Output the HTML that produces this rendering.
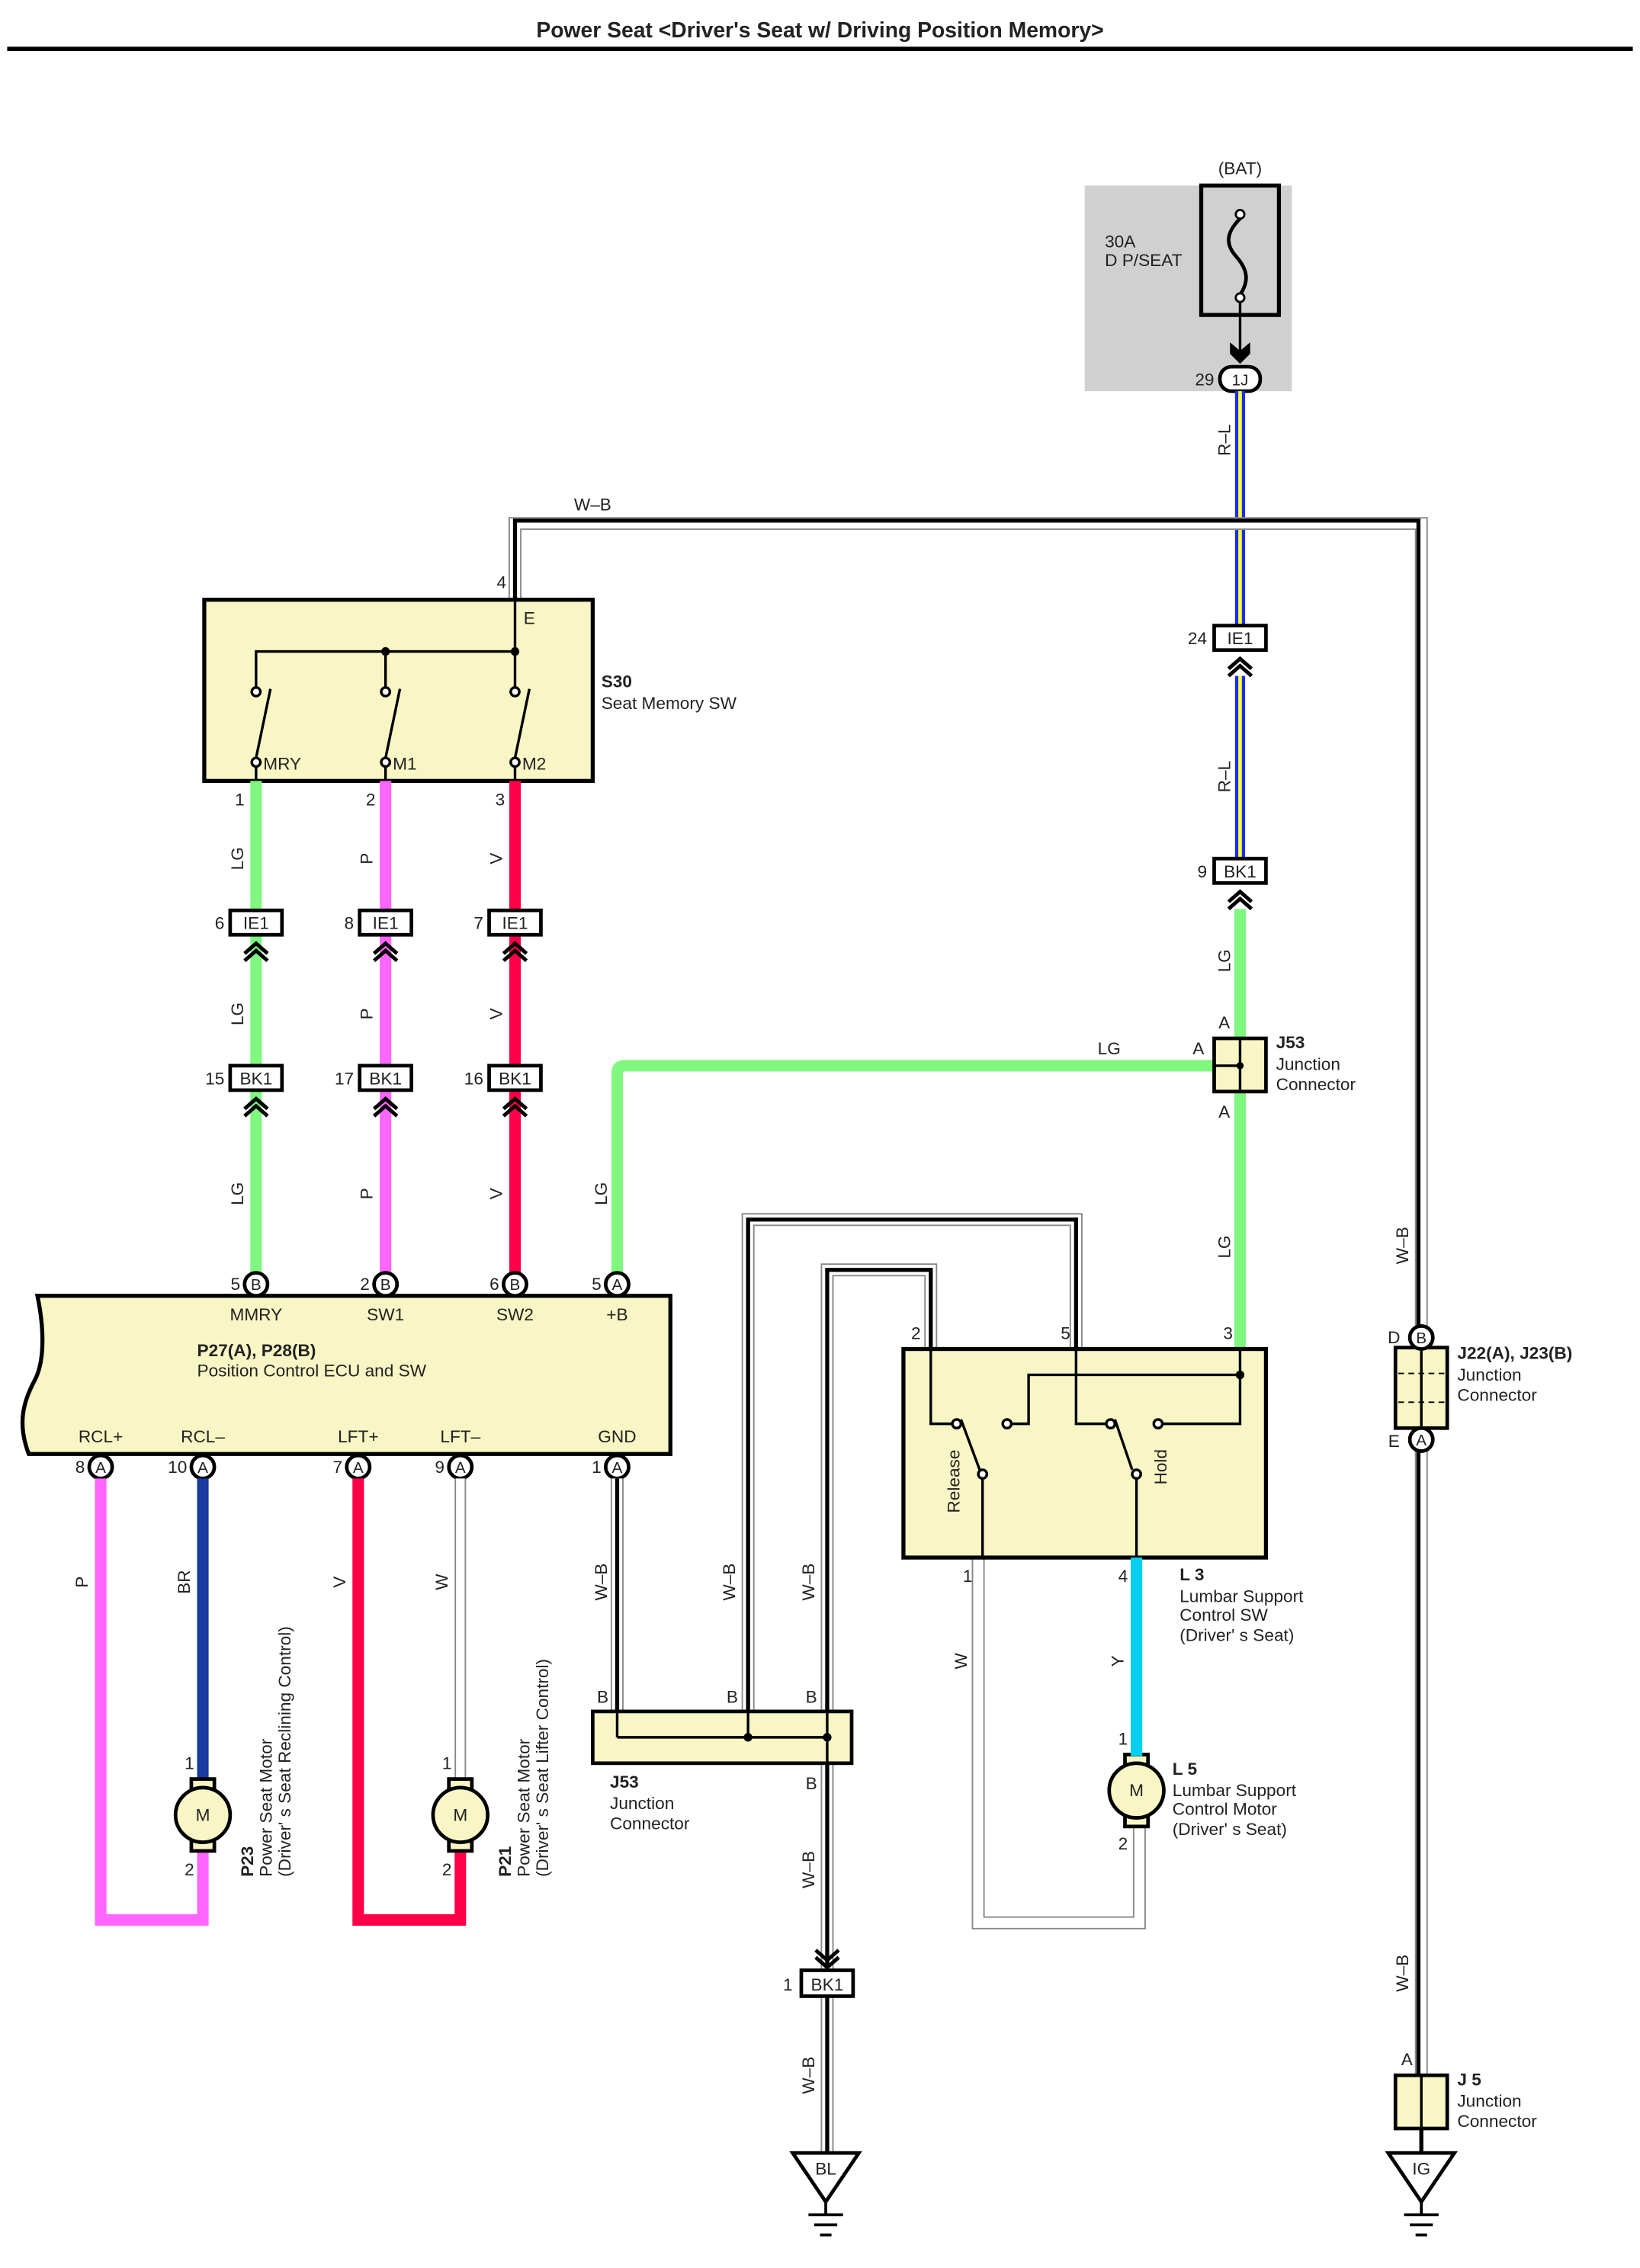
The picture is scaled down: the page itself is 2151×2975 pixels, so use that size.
<!DOCTYPE html>
<html><head><meta charset="utf-8"><style>
html,body{margin:0;padding:0;background:#fff;}
svg{display:block;}
text{font-family:"Liberation Sans",sans-serif;fill:#222;}
</style></head><body>
<svg width="2151" height="2975" viewBox="0 0 1140 1577" preserveAspectRatio="none" xmlns="http://www.w3.org/2000/svg">
<defs>
<g id="chev"><polyline points="-8,7 0,0 8,7" fill="none" stroke="#000" stroke-width="2.6"/><polyline points="-8,12 0,5 8,12" fill="none" stroke="#000" stroke-width="2.6"/></g>
<g id="chevd"><polyline points="-8,-7 0,0 8,-7" fill="none" stroke="#000" stroke-width="2.6"/><polyline points="-8,-12 0,-5 8,-12" fill="none" stroke="#000" stroke-width="2.6"/></g>
</defs>
<text x="570" y="26" font-size="15" font-weight="bold" text-anchor="middle" fill="#000">Power Seat &lt;Driver's Seat w/ Driving Position Memory&gt;</text>
<line x1="5" y1="34" x2="1135" y2="34" stroke="#000" stroke-width="3"/>

<rect x="754" y="129" width="144" height="143" fill="#d0d0d0"/>
<rect x="835" y="129" width="54" height="90" fill="#d0d0d0" stroke="#000" stroke-width="2.8"/>
<text x="862" y="121" font-size="12" text-anchor="middle">(BAT)</text>
<text x="768" y="172" font-size="12">30A</text>
<text x="768" y="185" font-size="12">D P/SEAT</text>
<path d="M862,152 C852,162 852,170 859,178 C868,188 868,196 862,205" fill="none" stroke="#000" stroke-width="2.5"/>
<circle cx="862" cy="149" r="3" fill="#fff" stroke="#000" stroke-width="1.5"/>
<circle cx="862" cy="207" r="3" fill="#fff" stroke="#000" stroke-width="1.5"/>
<line x1="862" y1="210" x2="862" y2="250" stroke="#000" stroke-width="1.8"/>
<path d="M855,238 L862,244 L869,238 L869,246 L862,253 L855,246 Z" fill="#000"/>
<rect x="848" y="255" width="28" height="17" rx="8" fill="#fff" stroke="#000" stroke-width="2.5"/>
<text x="862" y="268" font-size="11" text-anchor="middle">1J</text>
<text x="844" y="268" font-size="12" text-anchor="end">29</text>

<g>
<line x1="862" y1="272" x2="862" y2="435" stroke="#1a2cff" stroke-width="7"/>
<line x1="862" y1="272" x2="862" y2="435" stroke="#ffff33" stroke-width="2.5"/>
<line x1="862" y1="470" x2="862" y2="597" stroke="#1a2cff" stroke-width="7"/>
<line x1="862" y1="470" x2="862" y2="597" stroke="#ffff33" stroke-width="2.5"/>
</g>
<text transform="translate(855,306) rotate(-90)" font-size="12" text-anchor="middle">R–L</text>
<text transform="translate(855,540) rotate(-90)" font-size="12" text-anchor="middle">R–L</text>
<rect x="844" y="435" width="36" height="17" fill="#fff" stroke="#000" stroke-width="2.5"/>
<text x="862" y="448" font-size="12" text-anchor="middle">IE1</text>
<text x="839" y="448" font-size="12" text-anchor="end">24</text>
<use href="#chev" x="862" y="458"/>
<line x1="862" y1="632" x2="862" y2="938" stroke="#80f880" stroke-width="8"/>
<rect x="844" y="597" width="36" height="17" fill="#fff" stroke="#000" stroke-width="2.5"/>
<text x="862" y="610" font-size="12" text-anchor="middle">BK1</text>
<text x="839" y="610" font-size="12" text-anchor="end">9</text>
<use href="#chev" x="862" y="620"/>
<text transform="translate(855,668) rotate(-90)" font-size="12" text-anchor="middle">LG</text>
<text transform="translate(855,867) rotate(-90)" font-size="12" text-anchor="middle">LG</text>
<path d="M429,893 L429,746 Q429,741 434,741 L844,741" fill="none" stroke="#80f880" stroke-width="8"/>
<text x="771" y="733" font-size="12" text-anchor="middle">LG</text>
<text transform="translate(422,830) rotate(-90)" font-size="12" text-anchor="middle">LG</text>
<rect x="844" y="722" width="36" height="37" fill="#f8f6c4" stroke="#000" stroke-width="2.5"/>
<line x1="862" y1="722" x2="862" y2="759" stroke="#000" stroke-width="1.8"/>
<line x1="844" y1="741" x2="862" y2="741" stroke="#000" stroke-width="1.8"/>
<circle cx="862" cy="741" r="2.5" fill="#000"/>
<text x="851" y="715" font-size="12" text-anchor="middle">A</text>
<text x="851" y="777" font-size="12" text-anchor="middle">A</text>
<text x="833" y="733" font-size="12" text-anchor="middle">A</text>
<text x="887" y="729" font-size="12" font-weight="bold">J53</text>
<text x="887" y="744" font-size="12">Junction</text>
<text x="887" y="758" font-size="12">Connector</text>

<path d="M358,417 L358,364 L988,364 L988,930" fill="none" stroke="#888" stroke-width="9"/>
<path d="M358,417 L358,364 L988,364 L988,930" fill="none" stroke="#fff" stroke-width="7"/>
<path d="M358,417 L358,362 L986,362 L986,930" fill="none" stroke="#000" stroke-width="2.8"/>
<text x="412" y="355" font-size="12" text-anchor="middle">W–B</text>
<text x="352" y="409" font-size="12" text-anchor="end">4</text>
<text transform="translate(979,866) rotate(-90)" font-size="12" text-anchor="middle">W–B</text>

<rect x="142" y="417" width="270" height="126" fill="#f8f6c4" stroke="#000" stroke-width="2.8"/>
<text x="364" y="434" font-size="12">E</text>
<line x1="358" y1="417" x2="358" y2="478" stroke="#000" stroke-width="1.8"/>
<polyline points="178,478 178,453 358,453" fill="none" stroke="#000" stroke-width="1.8"/>
<line x1="268" y1="453" x2="268" y2="478" stroke="#000" stroke-width="1.8"/>
<circle cx="268" cy="453" r="3" fill="#000"/><circle cx="358" cy="453" r="3" fill="#000"/>
<g stroke="#000" stroke-width="1.8" fill="#fff">
<circle cx="178" cy="481" r="3"/><circle cx="268" cy="481" r="3"/><circle cx="358" cy="481" r="3"/>
<line x1="188" y1="479" x2="178" y2="527"/><line x1="278" y1="479" x2="268" y2="527"/><line x1="368" y1="479" x2="358" y2="527"/>
<circle cx="178" cy="530" r="3"/><circle cx="268" cy="530" r="3"/><circle cx="358" cy="530" r="3"/>
<line x1="178" y1="533" x2="178" y2="543"/><line x1="268" y1="533" x2="268" y2="543"/><line x1="358" y1="533" x2="358" y2="543"/>
</g>
<text x="183" y="535" font-size="12">MRY</text>
<text x="273" y="535" font-size="12">M1</text>
<text x="363" y="535" font-size="12">M2</text>
<text x="418" y="478" font-size="12" font-weight="bold">S30</text>
<text x="418" y="493" font-size="12">Seat Memory SW</text>
<text x="170" y="560" font-size="12" text-anchor="end">1</text>
<text x="261" y="560" font-size="12" text-anchor="end">2</text>
<text x="351" y="560" font-size="12" text-anchor="end">3</text>

<line x1="178" y1="543" x2="178" y2="885" stroke="#80f880" stroke-width="8"/>
<line x1="268" y1="543" x2="268" y2="885" stroke="#ff66ff" stroke-width="8"/>
<line x1="358" y1="543" x2="358" y2="885" stroke="#ff0048" stroke-width="8"/>
<g font-size="12" text-anchor="middle">
<text transform="translate(169,597) rotate(-90)">LG</text><text transform="translate(169,705) rotate(-90)">LG</text><text transform="translate(169,830) rotate(-90)">LG</text>
<text transform="translate(259,597) rotate(-90)">P</text><text transform="translate(259,705) rotate(-90)">P</text><text transform="translate(259,830) rotate(-90)">P</text>
<text transform="translate(349,597) rotate(-90)">V</text><text transform="translate(349,705) rotate(-90)">V</text><text transform="translate(349,830) rotate(-90)">V</text>
</g>
<g>
<rect x="160" y="633" width="36" height="17" fill="#fff" stroke="#000" stroke-width="2.5"/>
<rect x="250" y="633" width="36" height="17" fill="#fff" stroke="#000" stroke-width="2.5"/>
<rect x="340" y="633" width="36" height="17" fill="#fff" stroke="#000" stroke-width="2.5"/>
<rect x="160" y="741" width="36" height="17" fill="#fff" stroke="#000" stroke-width="2.5"/>
<rect x="250" y="741" width="36" height="17" fill="#fff" stroke="#000" stroke-width="2.5"/>
<rect x="340" y="741" width="36" height="17" fill="#fff" stroke="#000" stroke-width="2.5"/>
</g>
<g font-size="12" text-anchor="middle">
<text x="178" y="646">IE1</text><text x="268" y="646">IE1</text><text x="358" y="646">IE1</text>
<text x="178" y="754">BK1</text><text x="268" y="754">BK1</text><text x="358" y="754">BK1</text>
</g>
<g font-size="12" text-anchor="end">
<text x="156" y="646">6</text><text x="246" y="646">8</text><text x="336" y="646">7</text>
<text x="156" y="754">15</text><text x="246" y="754">17</text><text x="336" y="754">16</text>
</g>
<use href="#chev" x="178" y="656"/><use href="#chev" x="268" y="656"/><use href="#chev" x="358" y="656"/>
<use href="#chev" x="178" y="764"/><use href="#chev" x="268" y="764"/><use href="#chev" x="358" y="764"/>

<path d="M26,901 L466,901 L466,1011 L20,1011 C12,990 16,975 24,960 C32,945 30,920 26,901 Z" fill="#f8f6c4" stroke="#000" stroke-width="2.8"/>
<g fill="#fff" stroke="#000" stroke-width="2.5">
<circle cx="178" cy="893" r="8"/><circle cx="268" cy="893" r="8"/><circle cx="358" cy="893" r="8"/><circle cx="429" cy="893" r="8"/>
<circle cx="70" cy="1020" r="8"/><circle cx="141" cy="1020" r="8"/><circle cx="249" cy="1020" r="8"/><circle cx="320" cy="1020" r="8"/><circle cx="429" cy="1020" r="8"/>
</g>
<g font-size="11" text-anchor="middle">
<text x="178" y="897">B</text><text x="268" y="897">B</text><text x="358" y="897">B</text><text x="429" y="897">A</text>
<text x="70" y="1024">A</text><text x="141" y="1024">A</text><text x="249" y="1024">A</text><text x="320" y="1024">A</text><text x="429" y="1024">A</text>
</g>
<g font-size="12" text-anchor="end">
<text x="167" y="897">5</text><text x="257" y="897">2</text><text x="347" y="897">6</text><text x="418" y="897">5</text>
<text x="59" y="1024">8</text><text x="130" y="1024">10</text><text x="238" y="1024">7</text><text x="309" y="1024">9</text><text x="418" y="1024">1</text>
</g>
<g font-size="12" text-anchor="middle">
<text x="178" y="918">MMRY</text><text x="268" y="918">SW1</text><text x="358" y="918">SW2</text><text x="429" y="918">+B</text>
<text x="70" y="1003">RCL+</text><text x="141" y="1003">RCL–</text><text x="249" y="1003">LFT+</text><text x="320" y="1003">LFT–</text><text x="429" y="1003">GND</text>
</g>
<text x="137" y="943" font-size="12" font-weight="bold">P27(A), P28(B)</text>
<text x="137" y="957" font-size="12">Position Control ECU and SW</text>

<path d="M70,1028 L70,1335 L141,1335 L141,1286" fill="none" stroke="#ff66ff" stroke-width="8"/>
<line x1="141" y1="1028" x2="141" y2="1238" stroke="#1a3aa0" stroke-width="8"/>
<path d="M249,1028 L249,1335 L320,1335 L320,1286" fill="none" stroke="#ff0048" stroke-width="8"/>
<line x1="320" y1="1028" x2="320" y2="1238" stroke="#888" stroke-width="8"/>
<line x1="320" y1="1028" x2="320" y2="1238" stroke="#fff" stroke-width="6"/>
<g font-size="12" text-anchor="middle">
<text transform="translate(61,1100) rotate(-90)">P</text>
<text transform="translate(132,1100) rotate(-90)">BR</text>
<text transform="translate(240,1100) rotate(-90)">V</text>
<text transform="translate(311,1100) rotate(-90)">W</text>
</g>

<g fill="none">
<path d="M429,1028 L429,1208" stroke="#888" stroke-width="9"/>
<path d="M429,1028 L429,1208" stroke="#fff" stroke-width="7"/>
<path d="M429,1028 L429,1208" stroke="#000" stroke-width="2.8"/>
<path d="M520,1208 L520,848 L748,848 L748,938" stroke="#888" stroke-width="9"/>
<path d="M520,1208 L520,848 L748,848 L748,938" stroke="#fff" stroke-width="7"/>
<path d="M520,1208 L520,848 L748,848 L748,938" stroke="#000" stroke-width="2.8"/>
<path d="M575,1208 L575,883 L647,883 L647,938" stroke="#888" stroke-width="9"/>
<path d="M575,1208 L575,883 L647,883 L647,938" stroke="#fff" stroke-width="7"/>
<path d="M575,1208 L575,883 L647,883 L647,938" stroke="#000" stroke-width="2.8"/>
<path d="M575,1226 L575,1370" stroke="#888" stroke-width="9"/>
<path d="M575,1226 L575,1370" stroke="#fff" stroke-width="7"/>
<path d="M575,1226 L575,1370" stroke="#000" stroke-width="2.8"/>
<path d="M575,1388 L575,1497" stroke="#888" stroke-width="9"/>
<path d="M575,1388 L575,1497" stroke="#fff" stroke-width="7"/>
<path d="M575,1388 L575,1497" stroke="#000" stroke-width="2.8"/>
<path d="M680,1083 L680,1337 L792,1337 L792,1268" stroke="#888" stroke-width="9"/>
<path d="M680,1083 L680,1337 L792,1337 L792,1268" stroke="#fff" stroke-width="7"/>
</g>

<!-- motors -->
<g stroke="#000" stroke-width="2.5" fill="#f8f6c4">
<rect x="133" y="1237" width="16" height="7"/><rect x="133" y="1280" width="16" height="7"/><circle cx="141" cy="1262" r="19"/>
<rect x="312" y="1237" width="16" height="7"/><rect x="312" y="1280" width="16" height="7"/><circle cx="320" cy="1262" r="19"/>
<rect x="782" y="1220" width="16" height="7"/><rect x="782" y="1263" width="16" height="7"/><circle cx="790" cy="1245" r="19"/>
</g>
<g font-size="12" text-anchor="middle"><text x="141" y="1266">M</text><text x="320" y="1266">M</text><text x="790" y="1249">M</text></g>
<g font-size="12" text-anchor="end">
<text x="135" y="1230">1</text><text x="135" y="1304">2</text>
<text x="314" y="1230">1</text><text x="314" y="1304">2</text>
<text x="784" y="1213">1</text><text x="784" y="1286">2</text>
</g>
<g font-size="12">
<text transform="translate(176,1305) rotate(-90)" font-weight="bold">P23</text>
<text transform="translate(189,1305) rotate(-90)">Power Seat Motor</text>
<text transform="translate(202,1305) rotate(-90)">(Driver' s Seat Reclining Control)</text>
<text transform="translate(355,1305) rotate(-90)" font-weight="bold">P21</text>
<text transform="translate(368,1305) rotate(-90)">Power Seat Motor</text>
<text transform="translate(381,1305) rotate(-90)">(Driver' s Seat Lifter Control)</text>
</g>

<g font-size="12" text-anchor="middle">
<text transform="translate(422,1100) rotate(-90)">W–B</text>
<text transform="translate(511,1100) rotate(-90)">W–B</text>
<text transform="translate(566,1100) rotate(-90)">W–B</text>
<text transform="translate(566,1300) rotate(-90)">W–B</text>
<text transform="translate(566,1443) rotate(-90)">W–B</text>
<text transform="translate(672,1155) rotate(-90)">W</text>
<text transform="translate(781,1155) rotate(-90)">Y</text>
</g>
<rect x="412" y="1190" width="180" height="36" fill="#f8f6c4" stroke="#000" stroke-width="2.5"/>
<line x1="429" y1="1190" x2="429" y2="1208" stroke="#000" stroke-width="1.8"/>
<line x1="429" y1="1208" x2="575" y2="1208" stroke="#000" stroke-width="1.8"/>
<line x1="520" y1="1190" x2="520" y2="1208" stroke="#000" stroke-width="1.8"/>
<line x1="575" y1="1190" x2="575" y2="1226" stroke="#000" stroke-width="1.8"/>
<circle cx="520" cy="1208" r="3" fill="#000"/><circle cx="575" cy="1208" r="3" fill="#000"/>
<g font-size="12" text-anchor="middle">
<text x="419" y="1184">B</text><text x="509" y="1184">B</text><text x="564" y="1184">B</text><text x="564" y="1244">B</text>
</g>
<text x="424" y="1243" font-size="12" font-weight="bold">J53</text>
<text x="424" y="1258" font-size="12">Junction</text>
<text x="424" y="1272" font-size="12">Connector</text>
<use href="#chevd" x="575" y="1368"/>
<rect x="557" y="1370" width="36" height="18" fill="#fff" stroke="#000" stroke-width="2.5"/>
<text x="575" y="1384" font-size="12" text-anchor="middle">BK1</text>
<text x="551" y="1384" font-size="12" text-anchor="end">1</text>
<polygon points="551,1497 597,1497 574,1531" fill="#fff" stroke="#000" stroke-width="2.5"/>
<text x="574" y="1512" font-size="12" text-anchor="middle">BL</text>
<line x1="574" y1="1531" x2="574" y2="1540" stroke="#000" stroke-width="2"/>
<line x1="562" y1="1540" x2="586" y2="1540" stroke="#000" stroke-width="2"/>
<line x1="566" y1="1547" x2="582" y2="1547" stroke="#000" stroke-width="2"/>
<line x1="570" y1="1554" x2="578" y2="1554" stroke="#000" stroke-width="2"/>

<rect x="628" y="938" width="252" height="145" fill="#f8f6c4" stroke="#000" stroke-width="2.8"/>
<g stroke="#000" stroke-width="1.8" fill="none">
<polyline points="647,938 647,990 662,990"/>
<line x1="668" y1="987" x2="681" y2="1022"/>
<line x1="683" y1="1028" x2="683" y2="1083"/>
<polyline points="703,990 715,990 715,956 862,956"/>
<polyline points="748,938 748,990 769,990"/>
<line x1="775" y1="987" x2="787" y2="1022"/>
<line x1="790" y1="1028" x2="790" y2="1083"/>
<polyline points="808,990 862,990 862,938"/>
</g>
<circle cx="862" cy="956" r="3" fill="#000"/>
<g fill="#fff" stroke="#000" stroke-width="1.8">
<circle cx="665" cy="990" r="3"/><circle cx="683" cy="1025" r="3"/><circle cx="700" cy="990" r="3"/>
<circle cx="772" cy="990" r="3"/><circle cx="790" cy="1025" r="3"/><circle cx="805" cy="990" r="3"/>
</g>
<text transform="translate(667,1030) rotate(-90)" font-size="12" text-anchor="middle">Release</text>
<text transform="translate(811,1020) rotate(-90)" font-size="12" text-anchor="middle">Hold</text>
<g font-size="12" text-anchor="end">
<text x="640" y="931">2</text><text x="744" y="931">5</text><text x="857" y="931">3</text>
<text x="676" y="1100">1</text><text x="784" y="1100">4</text>
</g>
<line x1="790" y1="1083" x2="790" y2="1221" stroke="#00d0f0" stroke-width="8"/>
<text x="820" y="1099" font-size="12" font-weight="bold">L 3</text>
<text x="820" y="1114" font-size="12">Lumbar Support</text>
<text x="820" y="1127" font-size="12">Control SW</text>
<text x="820" y="1141" font-size="12">(Driver'  s Seat)</text>
<text x="815" y="1234" font-size="12" font-weight="bold">L 5</text>
<text x="815" y="1249" font-size="12">Lumbar Support</text>
<text x="815" y="1262" font-size="12">Control Motor</text>
<text x="815" y="1276" font-size="12">(Driver'  s Seat)</text>

<g fill="none">
<path d="M988,1009 L988,1443" stroke="#888" stroke-width="9"/>
<path d="M988,1009 L988,1443" stroke="#fff" stroke-width="7"/>
<path d="M986,1009 L986,1443" stroke="#000" stroke-width="2.8"/>
<path d="M988,1480 L988,1497" stroke="#000" stroke-width="2.8"/>
</g>
<rect x="970" y="937" width="36" height="56" fill="#f8f6c4" stroke="#000" stroke-width="2.5"/>
<line x1="988" y1="937" x2="988" y2="993" stroke="#000" stroke-width="1.8"/>
<line x1="972" y1="955" x2="1004" y2="955" stroke="#000" stroke-width="1" stroke-dasharray="4,3"/>
<line x1="972" y1="975" x2="1004" y2="975" stroke="#000" stroke-width="1" stroke-dasharray="4,3"/>
<circle cx="988" cy="930" r="8" fill="#fff" stroke="#000" stroke-width="2.5"/>
<circle cx="988" cy="1001" r="8" fill="#fff" stroke="#000" stroke-width="2.5"/>
<text x="988" y="934" font-size="11" text-anchor="middle">B</text>
<text x="988" y="1005" font-size="11" text-anchor="middle">A</text>
<text x="969" y="934" font-size="12" text-anchor="middle">D</text>
<text x="969" y="1006" font-size="12" text-anchor="middle">E</text>
<text x="1013" y="945" font-size="12" font-weight="bold">J22(A), J23(B)</text>
<text x="1013" y="960" font-size="12">Junction</text>
<text x="1013" y="974" font-size="12">Connector</text>
<text transform="translate(979,1372) rotate(-90)" font-size="12" text-anchor="middle">W–B</text>
<rect x="970" y="1443" width="36" height="37" fill="#f8f6c4" stroke="#000" stroke-width="2.5"/>
<line x1="988" y1="1443" x2="988" y2="1480" stroke="#000" stroke-width="1.8"/>
<text x="978" y="1436" font-size="12" text-anchor="middle">A</text>
<text x="1013" y="1450" font-size="12" font-weight="bold">J 5</text>
<text x="1013" y="1465" font-size="12">Junction</text>
<text x="1013" y="1479" font-size="12">Connector</text>
<polygon points="965,1497 1011,1497 988,1531" fill="#fff" stroke="#000" stroke-width="2.5"/>
<text x="988" y="1512" font-size="12" text-anchor="middle">IG</text>
<line x1="988" y1="1531" x2="988" y2="1540" stroke="#000" stroke-width="2"/>
<line x1="976" y1="1540" x2="1000" y2="1540" stroke="#000" stroke-width="2"/>
<line x1="980" y1="1547" x2="996" y2="1547" stroke="#000" stroke-width="2"/>
<line x1="984" y1="1554" x2="992" y2="1554" stroke="#000" stroke-width="2"/>
</svg>
</body></html>
